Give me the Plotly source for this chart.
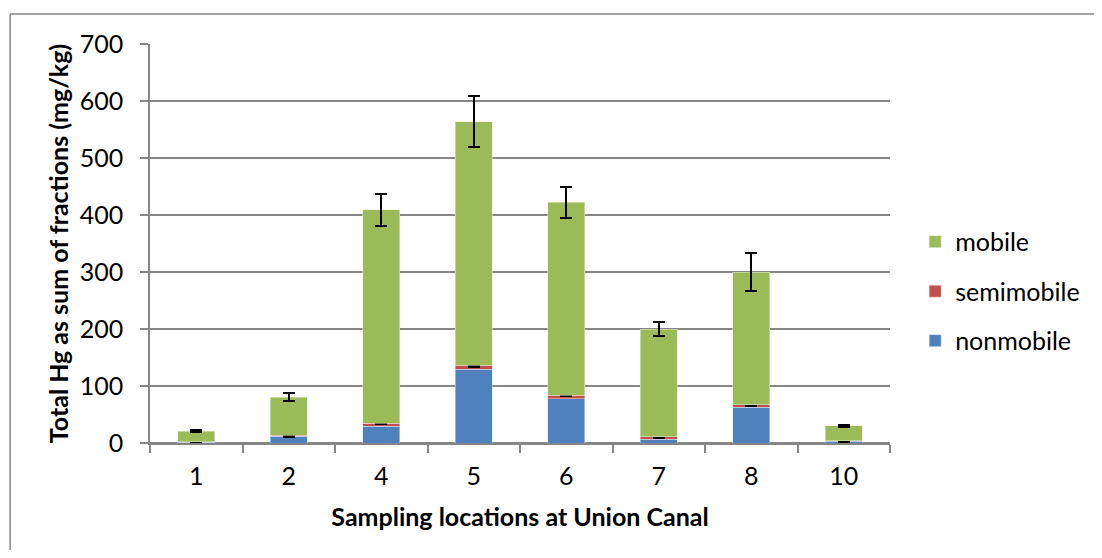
import plotly.graph_objects as go

categories = ["1", "2", "4", "5", "6", "7", "8", "10"]
nonmobile = [1, 12, 29, 129, 78, 7, 63, 3]
semimobile = [1.5, 1.5, 6, 7, 6, 4, 4, 1]
mobile = [18.5, 66.5, 374, 428, 338, 189, 233, 26]
semi_err = [1.5, 1.5, 1.5, 1.5, 1.5, 1.5, 1.5, 1.5]
total_err = [2, 7, 27.5, 44.5, 27.5, 13, 34, 1.5]

FONT = "Lato"
TXT = "#000000"

fig = go.Figure()
fig.add_trace(go.Bar(
    name="nonmobile", x=categories, y=nonmobile,
    marker=dict(color="#4F81BD", line=dict(color="#DCE6F2", width=0.5)),
    legendgroup="c", legendrank=3,
))
fig.add_trace(go.Bar(
    name="semimobile", x=categories, y=semimobile,
    marker=dict(color="#C0504D", line=dict(color="#F2DCDB", width=0.5)),
    error_y=dict(type="data", array=semi_err, visible=True, color="black", thickness=3, width=6),
    legendgroup="b", legendrank=2,
))
fig.add_trace(go.Bar(
    name="mobile", x=categories, y=mobile,
    marker=dict(color="#9BBB59", line=dict(color="#EBF1DE", width=0.5)),
    error_y=dict(type="data", array=total_err, visible=True, color="black", thickness=2, width=6),
    legendgroup="a", legendrank=1,
))

border = dict(color="#868686", width=1.5)
fig.update_layout(
    barmode="stack",
    bargap=0.6,
    width=1094, height=542,
    margin=dict(l=142, r=212, t=36, b=107),
    paper_bgcolor="white", plot_bgcolor="white",
    font=dict(family=FONT, size=25, color=TXT),
    legend=dict(
        x=1.034, y=0.38, xanchor="left", yanchor="middle",
        traceorder="grouped", tracegroupgap=14,
        font=dict(family=FONT, size=25, color=TXT),
        itemwidth=30,
    ),
    xaxis=dict(
        type="category", automargin=False,
        showline=True, linecolor="#868686", linewidth=1.5,
        ticks="outside", tickson="boundaries", ticklen=8, tickcolor="#868686", tickwidth=1.5,
        ticklabelstandoff=10,
        tickfont=dict(family=FONT, size=25, color=TXT),
        title=dict(text="<b>Sampling locations at Union Canal</b>", font=dict(family=FONT, size=25, color=TXT), standoff=20),
    ),
    yaxis=dict(
        range=[0, 700], dtick=100, automargin=False,
        showgrid=True, gridcolor="#868686", gridwidth=1.5,
        showline=True, linecolor="#868686", linewidth=1.5,
        zeroline=True, zerolinecolor="#868686", zerolinewidth=1.5,
        ticks="outside", ticklen=8, tickcolor="#868686", tickwidth=1.5,
        ticklabelstandoff=12,
        tickfont=dict(family=FONT, size=25, color=TXT),
        title=dict(text="<b>Total Hg as sum of fractions (mg/kg)</b>", font=dict(family=FONT, size=25, color=TXT), standoff=4),
    ),
    shapes=[
        dict(type="line", xref="paper", yref="paper", x0=-0.189, x1=1.5, y0=1.075, y1=1.075, line=border, layer="below"),
        dict(type="line", xref="paper", yref="paper", x0=-0.189, x1=-0.189, y0=-0.5, y1=1.075, line=border, layer="below"),
    ],
)

fig.write_html("out.html")
